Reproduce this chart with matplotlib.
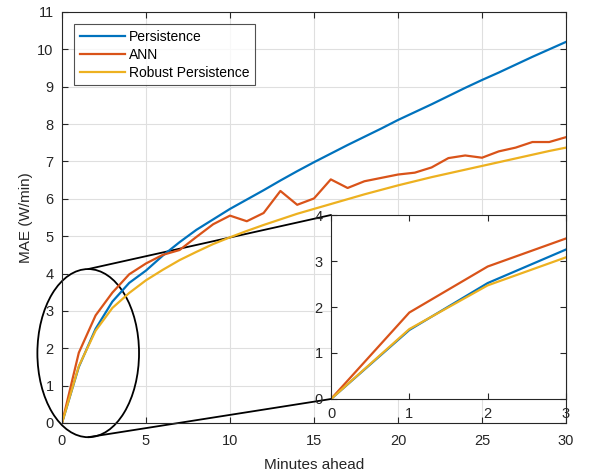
import numpy as np
import matplotlib
matplotlib.use("Agg")
import matplotlib.pyplot as plt
from matplotlib.patches import Ellipse, ConnectionPatch

plt.rcParams['font.family'] = ['Liberation Sans', 'DejaVu Sans']

minutes = list(range(0, 31))
persistence = [0, 1.50, 2.52, 3.25, 3.75, 4.08, 4.48, 4.84, 5.17, 5.45, 5.73, 5.98, 6.23, 6.49, 6.74, 6.98,
               7.21, 7.44, 7.66, 7.88, 8.11, 8.32, 8.53, 8.75, 8.97, 9.18, 9.38, 9.59, 9.80, 10.00, 10.20]
ann = [0, 1.88, 2.88, 3.49, 3.98, 4.27, 4.50, 4.63, 4.98, 5.32, 5.55, 5.40, 5.62, 6.21, 5.84, 6.01,
       6.52, 6.29, 6.47, 6.56, 6.65, 6.70, 6.84, 7.09, 7.16, 7.10, 7.27, 7.37, 7.52, 7.52, 7.65]
robust = [0, 1.52, 2.47, 3.08, 3.48, 3.82, 4.10, 4.36, 4.58, 4.79, 4.97, 5.14, 5.30, 5.45, 5.60, 5.73,
          5.86, 5.99, 6.12, 6.24, 6.36, 6.47, 6.58, 6.68, 6.78, 6.88, 6.98, 7.08, 7.18, 7.28, 7.37]

labels = ["Persistence", "ANN", "Robust Persistence"]
colors = ["#0072BD", "#D95319", "#EDB120"]
series = [persistence, ann, robust]

xticks = [0, 5, 10, 15, 20, 25, 30]
yticks = list(range(0, 12))
inset_n = 4  # first 4 points (0..3 minutes)

axc = "#262626"
fig = plt.figure(figsize=(5.99, 4.74), dpi=100)
ax = fig.add_axes([62/599, 1-423/474, 504/599, 411/474])
for s, c, l in zip(series, colors, labels):
    ax.plot(minutes, s, color=c, lw=1.6, label=l)
ax.set_xlim(0, 30)
ax.set_ylim(0, 11)
ax.set_xticks(xticks)
ax.set_yticks(yticks)
ax.grid(True, color="#DFDFDF", lw=0.8)
ax.set_axisbelow(True)
ax.tick_params(direction='in', top=True, right=True, length=4, labelsize=10.5,
               colors=axc, labelcolor=axc, width=0.8)
ax.tick_params(axis='x', pad=8)
ax.tick_params(axis='y', pad=6)
for sp in ax.spines.values():
    sp.set_color(axc)
    sp.set_linewidth(0.8)
ax.set_xlabel("Minutes ahead", fontsize=11, color=axc, labelpad=7)
ax.set_ylabel("MAE (W/min)", fontsize=11, color=axc, labelpad=3)
leg = ax.legend(loc='upper left', bbox_to_anchor=(74/599, 1-24/474), bbox_transform=fig.transFigure,
                fontsize=10, frameon=True, fancybox=False, edgecolor=axc, handlelength=3.25,
                borderpad=0.4, labelspacing=0.3, handletextpad=0.3, borderaxespad=0)
leg.get_frame().set_linewidth(0.8)

# inset
axi = fig.add_axes([331/599, 1-399/474, 235/599, 184/474])
for s, c in zip(series, colors):
    axi.plot(minutes[:inset_n], s[:inset_n], color=c, lw=1.6)
axi.set_xlim(0, 3)
axi.set_ylim(0, 4)
axi.set_xticks([0, 1, 2, 3])
axi.set_yticks([0, 1, 2, 3, 4])
axi.tick_params(direction='in', top=True, right=True, length=4, labelsize=10.5,
                colors=axc, labelcolor=axc, width=0.8, pad=6)
for sp in axi.spines.values():
    sp.set_color(axc)
    sp.set_linewidth(0.8)

# ellipse and connecting lines
xc, yc, w, h = 1.56, 1.87, 6.05, 4.5
ell = Ellipse((xc, yc), w, h, fill=False, edgecolor='black', lw=1.3, clip_on=False)
ax.add_patch(ell)
for ya, yb in [(yc + h/2, 4), (yc - h/2, 0)]:
    cp = ConnectionPatch(xyA=(xc, ya), coordsA=ax.transData, xyB=(0, yb), coordsB=axi.transData,
                         color='black', lw=1.3, clip_on=False)
    ax.add_artist(cp)

fig.savefig("out.png", dpi=100)
